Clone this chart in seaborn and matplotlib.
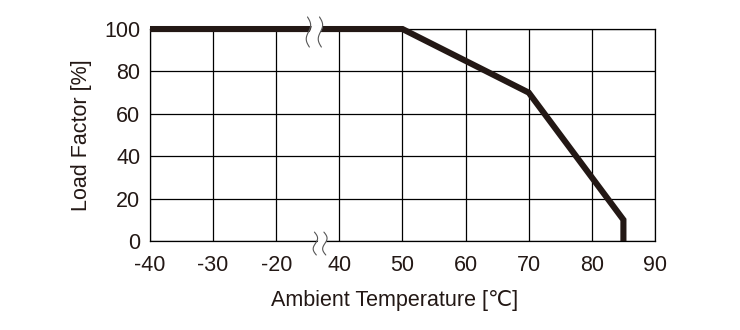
import numpy as np
import matplotlib
matplotlib.use("Agg")
import matplotlib.pyplot as plt
import seaborn as sns
import pandas as pd

# ---- data ----
temps = [-40, 50, 70, 85, 85]          # ambient temperature (deg C)
load = [100, 100, 70, 10, 0]           # load factor (%)
x_ticks_labels = [-40, -30, -20, 40, 50, 60, 70, 80, 90]
y_ticks = [0, 20, 40, 60, 80, 100]

# broken axis: -40..-20 then 40..90 (shift upper part by 50)
def to_pos(t):
    return t if t <= -20 else t - 50

df = pd.DataFrame({"pos": [to_pos(t) for t in temps], "load": load})

sns.set_theme(style="white")
plt.rcParams["font.family"] = ["Liberation Sans", "DejaVu Sans"]

ink = "#231815"
fig = plt.figure(figsize=(7.4, 3.3), dpi=100)
ax = fig.add_axes([0.2027, 0.2697, 0.8851 - 0.2027, 0.912 - 0.2697])

tick_pos = [to_pos(t) for t in x_ticks_labels]
ax.set_xlim(-40, 40)
ax.set_ylim(0, 100)
ax.set_xticks(tick_pos)
ax.set_xticklabels([str(t) for t in x_ticks_labels])
ax.set_yticks(y_ticks)
ax.grid(True, color="black", linewidth=0.9)
ax.set_axisbelow(True)
for s in ax.spines.values():
    s.set_color("black")
    s.set_linewidth(0.9)
ax.tick_params(length=0, labelsize=15.5, colors=ink)
ax.tick_params(axis="x", pad=10)
ax.tick_params(axis="y", pad=7)

sns.lineplot(data=df, x="pos", y="load", estimator=None, sort=False,
             color=ink, linewidth=4.4, ax=ax, zorder=5)
for l in ax.lines:
    l.set_clip_on(False)
    l.set_solid_capstyle("butt")
    l.set_solid_joinstyle("miter")

# break marks
def wave(x0, yc, half, amp=0.42):
    yy = np.linspace(yc - half, yc + half, 50)
    xx = x0 + amp * np.sin((yy - yc) / half * np.pi) - 0.15 * (yy - yc) / half
    return xx, yy

for (xa0, xb0, yc, half, gap) in ((-14.9, -13.0, 98.6, 7.1, 2.2),
                                  (-13.8, -12.3, -1.2, 5.4, 1.0)):
    xa, ya = wave(xa0, yc, half)
    xb, yb = wave(xb0, yc, half)
    ybase = 100 if yc > 50 else 0
    mask = np.abs(ya - ybase) <= gap
    ax.fill_betweenx(ya[mask], xa[mask] + 0.08, xb[mask] - 0.08, color="white",
                     zorder=6, clip_on=False, linewidth=0)
    ax.plot(xa, ya, color="#555555", lw=0.8, zorder=7, clip_on=False)
    ax.plot(xb, yb, color="#555555", lw=0.8, zorder=7, clip_on=False)

ax.set_xlabel("Ambient Temperature [℃]", fontsize=15.5, color=ink, labelpad=10)
ax.xaxis.label.set_x(0.485)
ax.set_ylabel("Load Factor [%]", fontsize=15.5, color=ink, labelpad=9)

fig.savefig("out.png", dpi=100)
